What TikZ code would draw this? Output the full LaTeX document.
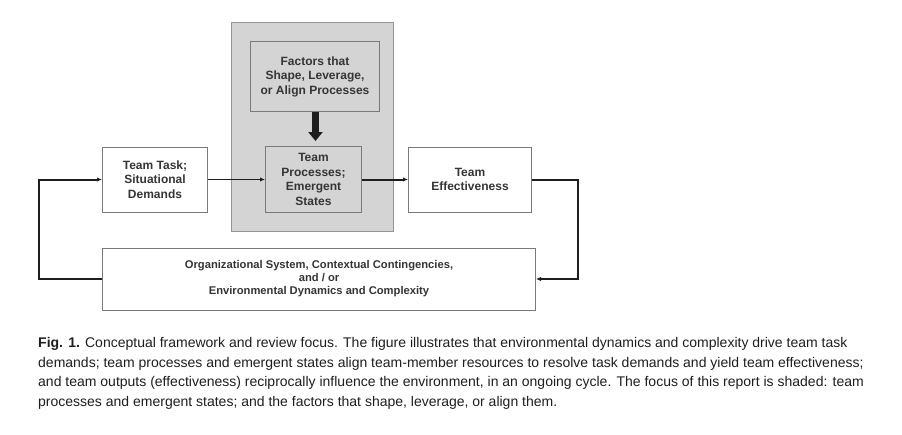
\documentclass[tikz,border=0pt]{standalone}
\usepackage{fontspec}
\setmainfont{Liberation Sans}
\usetikzlibrary{arrows.meta,positioning}
\definecolor{focus}{HTML}{D4D4D4}
\definecolor{edge}{HTML}{7A7A7A}
\definecolor{ink}{HTML}{1E1E1E}

\begin{document}
\begin{tikzpicture}[x=1pt, y=-1pt,
      box/.style={draw=edge, fill=white, align=center, inner sep=2pt, line width=1pt,
                  font=\fontsize{12}{14.5}\selectfont\bfseries, text=ink!90},
      g/.style={box, fill=focus},
      arr/.style={-{Latex[length=5pt,width=4.5pt]}, ink, line width=1.2pt},
      fb/.style={arr, line width=2pt},
      big/.style={-{Triangle[length=9pt,width=14pt]}, ink, line width=7pt, shorten >=5pt}]
    \useasboundingbox (0,0) rectangle (902,434);
    % shaded focus of the review
    \node[fill=focus, draw=edge!80, line width=1pt, minimum width=162pt, minimum height=209pt]
      (focus) at (312.5,127) {};
    \node[box, minimum width=105pt, minimum height=65pt] (task) at (155,179.5)
      {Team Task;\\Situational\\Demands};
    \node[g, minimum width=96pt, minimum height=66pt, right=57pt of task] (proc)
      {Team\\Processes;\\Emergent\\States};
    \node[box, minimum width=123pt, minimum height=65pt, right=46pt of proc] (eff)
      {Team\\Effectiveness};
    \node[g, minimum width=129pt, minimum height=70pt, above=34pt of proc, xshift=1.5pt] (fact)
      {Factors that\\Shape, Leverage,\\or Align Processes};
    \node[box, minimum width=433pt, minimum height=62pt, font=\fontsize{11.2}{13}\selectfont\bfseries,
          below=35pt of task.south west, anchor=north west] (env)
      {Organizational System, Contextual Contingencies,\\and / or\\Environmental Dynamics and Complexity};
    \draw[big] (fact.south -| proc.north) ++(2,0) -- ++(0,34);
    \draw[arr] (task) -- (proc);
    \draw[fb] (proc) -- (eff);
    \draw[fb] (eff.east) -- ++(46,0) |- (env.east);
    \draw[fb] (env.west) -- ++(-63,0) |- (task.west);
    % caption
    \node[anchor=base west, inner sep=0pt, align=left, font=\fontsize{14}{19.7}\selectfont, text=ink]
      (cap) at (38,406.5)
      {\textbf{Fig. 1.} Conceptual framework and review focus. The figure illustrates that environmental dynamics and complexity drive team task\\
       demands; team processes and emergent states align team-member resources to resolve task demands and yield team effectiveness;\\
       and team outputs (effectiveness) reciprocally influence the environment, in an ongoing cycle. The focus of this report is shaded: team\\
       processes and emergent states; and the factors that shape, leverage, or align them.};
\end{tikzpicture}
\end{document}
